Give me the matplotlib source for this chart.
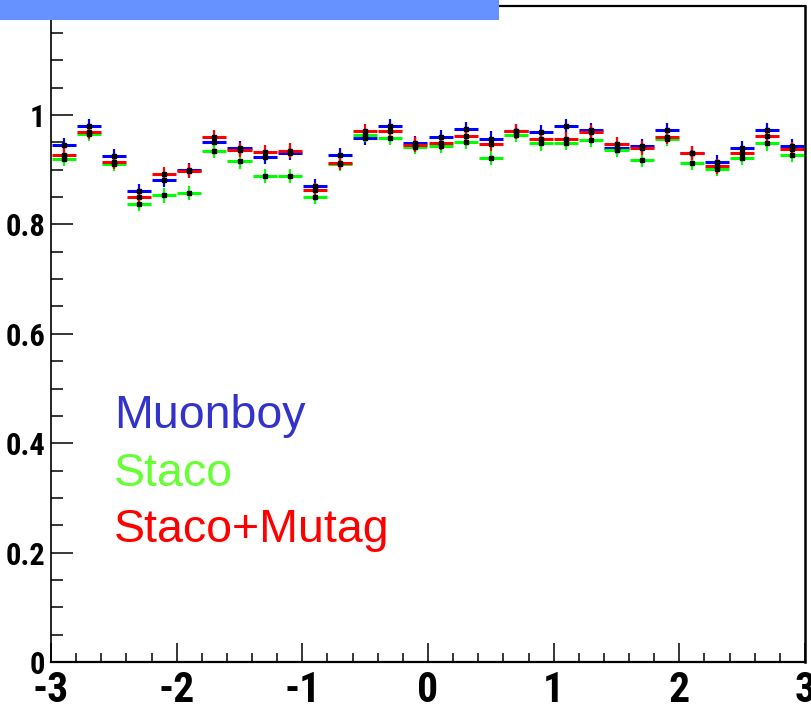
import matplotlib
matplotlib.use("Agg")
import matplotlib.pyplot as plt
from matplotlib.patches import Rectangle
from matplotlib.ticker import MultipleLocator
import numpy as np

# eta bins (-3..3, 30 bins of 0.2)
bin_edges = np.linspace(-3, 3, 31)
bin_centers = 0.5 * (bin_edges[:-1] + bin_edges[1:])

# efficiency per bin
eff_muonboy = [0.945, 0.980, 0.925, 0.861, 0.881, 0.899, 0.950, 0.940, 0.923, 0.930,
               0.870, 0.927, 0.958, 0.980, 0.948, 0.959, 0.974, 0.957, 0.970, 0.969,
               0.979, 0.973, 0.940, 0.943, 0.973, 0.931, 0.914, 0.940, 0.973, 0.944]
eff_staco = [0.920, 0.965, 0.910, 0.838, 0.853, 0.857, 0.934, 0.915, 0.889, 0.889,
             0.851, 0.910, 0.964, 0.958, 0.942, 0.943, 0.951, 0.922, 0.963, 0.948,
             0.949, 0.954, 0.936, 0.918, 0.956, 0.913, 0.901, 0.922, 0.948, 0.927]
eff_mutag = [0.927, 0.969, 0.914, 0.851, 0.892, 0.898, 0.960, 0.936, 0.932, 0.935,
             0.863, 0.912, 0.970, 0.970, 0.946, 0.949, 0.961, 0.947, 0.970, 0.956,
             0.956, 0.969, 0.947, 0.939, 0.960, 0.930, 0.906, 0.930, 0.961, 0.938]
eff_err = 0.013

xtick_vals = [-3, -2, -1, 0, 1, 2, 3]
xtick_labels = ["-3", "-2", "-1", "0", "1", "2", "3"]
ytick_vals = [0, 0.2, 0.4, 0.6, 0.8, 1.0]
ytick_labels = ["0", "0.2", "0.4", "0.6", "0.8", "1"]

series = [
    ("Muonboy", eff_muonboy, "#0000ff", "#3333cc"),
    ("Staco", eff_staco, "#00ff00", "#66ff33"),
    ("Staco+Mutag", eff_mutag, "#ff0000", "#ff0000"),
]

W, H = 811, 710
fig = plt.figure(figsize=(W / 100, H / 100), dpi=100)
ax = fig.add_axes([51 / W, (H - 662) / H, (805 - 51) / W, (662 - 5.6) / H])

for name, vals, col, _ in series:
    vals = np.array(vals)
    ax.hlines(vals, bin_edges[:-1] + 0.004, bin_edges[1:] - 0.004,
              colors=col, lw=2.2, capstyle="butt", zorder=2)
    ax.vlines(bin_centers, vals - eff_err, vals + eff_err, colors=col, lw=1.6, zorder=2)
for name, vals, col, _ in series:
    ax.plot(bin_centers, vals, ls="none", marker="s", ms=2.6, color="black", zorder=3)

ax.set_xlim(-3, 3)
ax.set_ylim(0, 1.2)

# axis ticks, root style
ax.xaxis.set_major_locator(MultipleLocator(1))
ax.xaxis.set_minor_locator(MultipleLocator(0.2))
ax.yaxis.set_major_locator(MultipleLocator(0.2))
ax.yaxis.set_minor_locator(MultipleLocator(0.05))
ax.tick_params(which="both", direction="in", top=False, right=False, width=1.1, colors="black")
ax.tick_params(axis="x", which="major", length=13.7, pad=6)
ax.tick_params(axis="x", which="minor", length=6.8)
ax.tick_params(axis="y", which="major", length=16, pad=4)
ax.tick_params(axis="y", which="minor", length=8.5)

ax.set_xticks(xtick_vals)
ax.set_xticklabels(xtick_labels)
ax.set_yticks(ytick_vals)
ax.set_yticklabels(ytick_labels)
fam = ["Nimbus Sans Narrow", "Roboto Condensed", "IBM Plex Sans Condensed",
       "Liberation Sans", "DejaVu Sans"]
for lab in ax.get_xticklabels():
    lab.set_family(fam)
    lab.set_fontweight("bold")
    lab.set_fontsize(30)
for lab in ax.get_yticklabels():
    lab.set_family(fam)
    lab.set_fontweight("bold")
    lab.set_fontsize(22)

ax.spines["left"].set_linewidth(1.2)
ax.spines["bottom"].set_linewidth(1.6)
ax.spines["top"].set_linewidth(1.6)
ax.spines["right"].set_linewidth(1.8)

# legend-like labels
baselines = [428, 486, 542]
for (name, _, _, tcol), yb in zip(series, baselines):
    fig.text(114 / W, 1 - yb / H, name, color=tcol, fontsize=33.5,
             family=["Liberation Sans", "DejaVu Sans"], va="baseline", ha="left")

# title bar
fig.patches.append(Rectangle((0, 1 - 20 / H), 499 / W, 20 / H, transform=fig.transFigure,
                             facecolor="#6692ff", edgecolor="none", zorder=5))

fig.savefig("out.png", dpi=100)
